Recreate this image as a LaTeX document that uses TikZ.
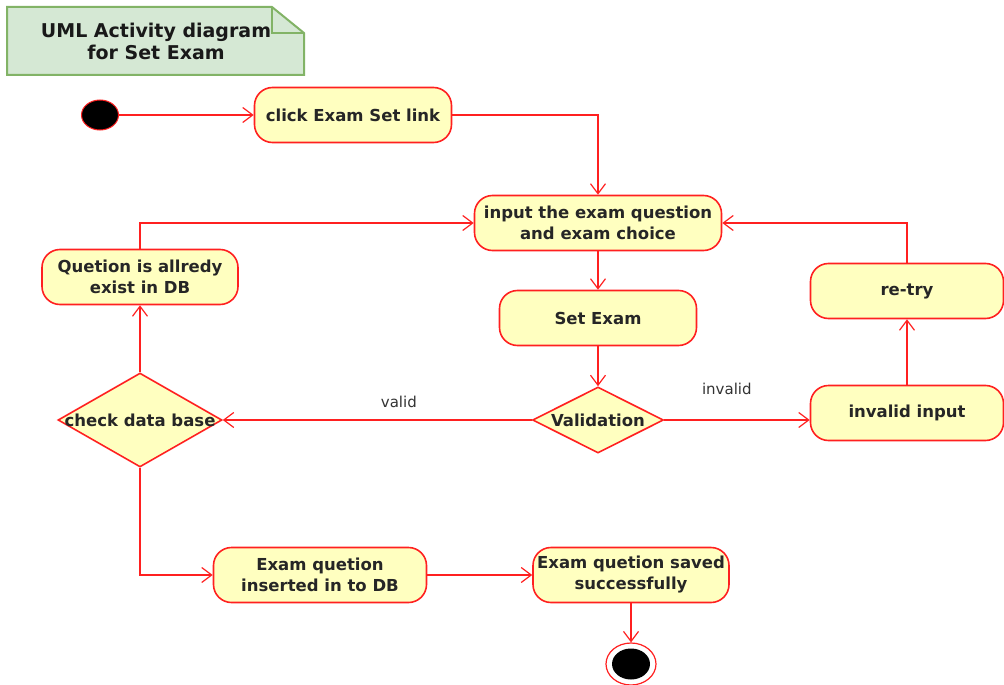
\documentclass[tikz,border=0pt]{standalone}
\usepackage{fontspec}
\setmainfont{DejaVu Sans}
\usepackage{xcolor}
\usetikzlibrary{arrows.meta,shapes.geometric}

\definecolor{actfill}{HTML}{FFFFC0}
\definecolor{actline}{HTML}{FF2020}
\definecolor{notefill}{HTML}{D5E8D4}
\definecolor{noteline}{HTML}{82B366}

\begin{document}
\begin{tikzpicture}[x=1pt,y=-1pt,
  txt/.style={text=black!85,font=\bfseries\fontsize{16.5}{21}\selectfont,align=center},
  act/.style={txt,draw=actline,fill=actfill,line width=1.6pt,rounded corners=18pt,
              inner sep=0pt,minimum width=197,minimum height=55},
  decision/.style={diamond,draw=actline,fill=actfill,line width=1.6pt,inner sep=0pt},
  lbl/.style={text=black!80,font=\fontsize{15}{17}\selectfont,inner sep=0pt},
  flow/.style={draw=actline,line width=1.2pt,-{Straight Barb[length=10pt,width=15pt]}}]
\useasboundingbox (0,0) rectangle (1004,685);

% note
\filldraw[fill=notefill,draw=noteline,line width=2pt]
  (7,7) -- (272,7) -- (304,33) -- (304,75) -- (7,75) -- cycle;
\draw[noteline,line width=2pt] (272,7) -- (272,33) -- (304,33);
\node[txt,text=black!90,font=\bfseries\fontsize{19}{22}\selectfont] (title) at (156,41)
  {UML Activity diagram\\for Set Exam};

\node[ellipse,draw=actline,fill=black,line width=1pt,inner sep=0pt,
      minimum width=37,minimum height=30] (start) at (100,115) {};
\node[act]                      (click)    at (353,115) {click Exam Set link};
\node[act,minimum width=247]    (input)    at (598,223) {input the exam question\\and exam choice};
\node[act]                      (set)      at (598,318) {Set Exam};
\node[decision,minimum width=131,minimum height=66,
      label={[txt]center:Validation}] (valid) at (598,420) {};
\node[act,minimum width=193]    (invalidin) at (907,413) {invalid input};
\node[act,minimum width=193]    (retry)    at (907,291) {re-try};
\node[decision,minimum width=164,minimum height=94,
      label={[txt]center:check data base}] (check) at (140,420) {};
\node[act,minimum width=196]    (exists)   at (140,277) {Quetion is allredy\\exist in DB};
\node[act,minimum width=213]    (inserted) at (320,575) {Exam quetion\\inserted in to DB};
\node[act,minimum width=196]    (saved)    at (631,575) {Exam quetion saved\\successfully};
\node[ellipse,draw=actline,fill=white,line width=1.2pt,inner sep=0pt,
      minimum width=50,minimum height=42] (end) at (631,664) {};
\node[ellipse,fill=black,inner sep=0pt,minimum width=38,minimum height=31] (endin) at (end) {};

\path[flow]
    (start)     edge (click)
    (input)     edge (set)
    (set)       edge (valid)
    (valid)     edge node[lbl,pos=0.43,above=12pt] {valid} (check)
    (valid)     edge node[lbl,pos=0.43,above=25pt] {invalid} (invalidin.west |- valid)
    (invalidin) edge (retry)
    (check)     edge (exists)
    (inserted)  edge (saved)
    (saved)     edge (end);

\draw[flow] (click) -| (input);
\draw[flow] (retry) |- (input);
\draw[flow] (exists) |- (input);
\draw[flow] (check) |- (inserted);
\end{tikzpicture}
\end{document}
